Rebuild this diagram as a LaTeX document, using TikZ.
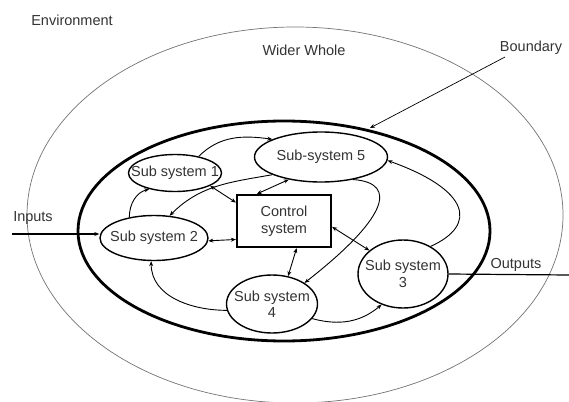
\documentclass[tikz,border=0pt]{standalone}
\usepackage{fontspec}
\setmainfont{Liberation Sans}
\usepackage{tikz}
\usetikzlibrary{positioning,shapes.geometric,arrows.meta}

\begin{document}
\begin{tikzpicture}[x=1pt, y=-1pt,
every node/.style={font=\fontsize{14.5}{16.5}\selectfont, text=black!80},
subnode/.style={ellipse, draw=black, line width=1.4pt, inner sep=0pt},
subtext/.style={align=center, inner sep=0pt},
controlnode/.style={rectangle, draw=black, line width=2.2pt, minimum width=94pt, minimum height=52pt, align=center, inner sep=0pt},
flow/.style={line width=0.9pt, -{Stealth[length=5pt,width=4pt]}},
twoway/.style={line width=0.9pt, {Stealth[length=5pt,width=4pt]}-{Stealth[length=5pt,width=4pt]}},
]
\useasboundingbox (0,0) rectangle (569,401);

%Rings
\draw[black!55, line width=0.7pt] (295,215) ellipse [x radius=268, y radius=188];
\draw[black, line width=2.8pt] (284,231) ellipse [x radius=206, y radius=110];

%Nodes
\node (env)      at (72,20)   {Environment};
\node (wider)    at (304,50)  {Wider Whole};
\node (bdry)     at (531,48)  {Boundary};
\node (inputs)   at (33,218)  {Inputs};
\node (outputs)  at (516,265) {Outputs};
\coordinate (bdryend) at (370,128);
\coordinate (inend)   at (12,234);
\coordinate (outend)  at (569,275);

\node[controlnode] (control) at (284,221) {Control\\system};
\node[subnode, minimum width=93pt, minimum height=37pt]  (ss1) at (175,173)
  [label={[subtext]center:Sub system 1}] {};
\node[subnode, minimum width=108pt, minimum height=45pt] (ss2) at (154,238)
  [label={[subtext]center:Sub system 2}] {};
\node[subnode, minimum width=90pt, minimum height=68pt]  (ss3) at (403,274)
  [label={[subtext]center:Sub system\\3}] {};
\node[subnode, minimum width=91pt, minimum height=58pt]  (ss4) at (272,304)
  [label={[subtext]center:Sub system\\4}] {};
\node[subnode, minimum width=133pt, minimum height=50pt] (ss5) at (321,157)
  [label={[subtext]center:Sub-system 5}] {};

%Lines
\draw[flow, line width=0.7pt] (505,57) -- (bdryend);
\draw[flow, line width=1.2pt] (inend) -- (ss2.west |- inend);
\draw[line width=1.2pt] (ss3.east) -- (outend);

\draw[flow] (ss2.140) to[out=90, in=195] (ss1.212);
\draw[flow] (ss1.35) to[out=45, in=172] (ss5.160);
\draw[twoway] (ss1.-20) -- (control.159);
\draw[flow] (ss5.200) to[out=190, in=45] (ss2.55);
\draw[twoway] (ss5.215) -- (control.135);
\draw[twoway] (ss2.-3) -- (control.201);
\draw[flow] (ss5.-35) .. controls (400,183) and (385,220) .. (ss4.33);
\draw[flow] (ss3.45) .. controls (478,225) and (470,190) .. (ss5.-3);
\draw[twoway] (control.-7) -- (ss3.145);
\draw[twoway] (control.-65) -- (ss4.60);
\draw[flow] (ss4.188) to[out=180, in=-90] (ss2.263);
\draw[flow] (ss4.-20) to[out=-15, in=220] (ss3.235);
\end{tikzpicture}
\end{document}
